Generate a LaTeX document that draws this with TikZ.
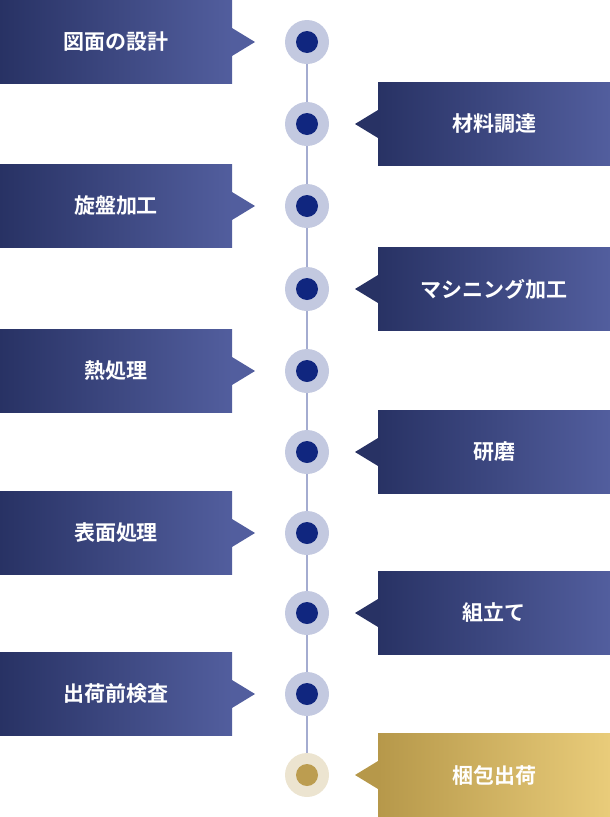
\documentclass[tikz,border=0pt]{standalone}
\usepackage{fontspec}
\newfontfamily\cjk{Noto Sans CJK JP Bold}
\usetikzlibrary{calc}
\definecolor{navyDark}{HTML}{283264}
\definecolor{navyLight}{HTML}{525E9E}
\definecolor{goldDark}{HTML}{B6984A}
\definecolor{goldLight}{HTML}{E9CC7A}
\definecolor{dotBlue}{HTML}{10267F}
\definecolor{ringBlue}{HTML}{C3C9E0}
\definecolor{lineBlue}{HTML}{A4ACD0}
\definecolor{dotGold}{HTML}{BC9D50}
\definecolor{ringGold}{HTML}{ECE4D0}
\tikzset{
  step box/.style={minimum width=232pt, minimum height=83pt, inner sep=0pt,
    text=white, font=\cjk\fontsize{21}{25}\selectfont, left color=navyDark, right color=navyLight},
  gold box/.style={step box, left color=goldDark, right color=goldLight},
  ring/.style={circle, minimum size=44pt, inner sep=0pt, fill=ringBlue},
  dot/.style={circle, minimum size=22pt, inner sep=0pt, fill=dotBlue},
}
\begin{document}
\begin{tikzpicture}[x=1pt,y=-1pt]
    \path[use as bounding box] (0,0) rectangle (610,817);

    % timeline
    \coordinate (top) at (307,42);
    \coordinate (bot) at (307,775);
    \draw[lineBlue, line width=1.5pt] (top) -- (bot);

    % left steps
    \foreach \y/\t [count=\i] in {42/図面の設計, 206/旋盤加工, 371/熱処理, 533/表面処理, 694/出荷前検査} {
      \fill[navyLight] (232,\y-14) -- (255,\y) -- (232,\y+14) -- cycle;
      \node[step box] (L\i) at (116,\y) {\t};
      \node[ring] (r\i) at (307,\y) {};
      \node[dot] at (r\i) {};
    }

    % right steps
    \foreach \y/\t [count=\i] in {124/材料調達, 289/マシニング加工, 452/研磨, 613/組立て} {
      \fill[navyDark] (378,\y-14) -- (355,\y) -- (378,\y+14) -- cycle;
      \node[step box] (R\i) at (494,\y) {\t};
      \node[ring] (q\i) at (307,\y) {};
      \node[dot] at (q\i) {};
    }

    % last step
    \fill[goldDark] (378,761) -- (355,775) -- (378,789) -- cycle;
    \node[gold box] (R5) at (494,775) {梱包出荷};
    \node[ring, fill=ringGold] (q5) at (bot) {};
    \node[dot, fill=dotGold] at (q5) {};
    \draw[lineBlue, line width=1.5pt] (r5) -- (q5);
\end{tikzpicture}
\end{document}
